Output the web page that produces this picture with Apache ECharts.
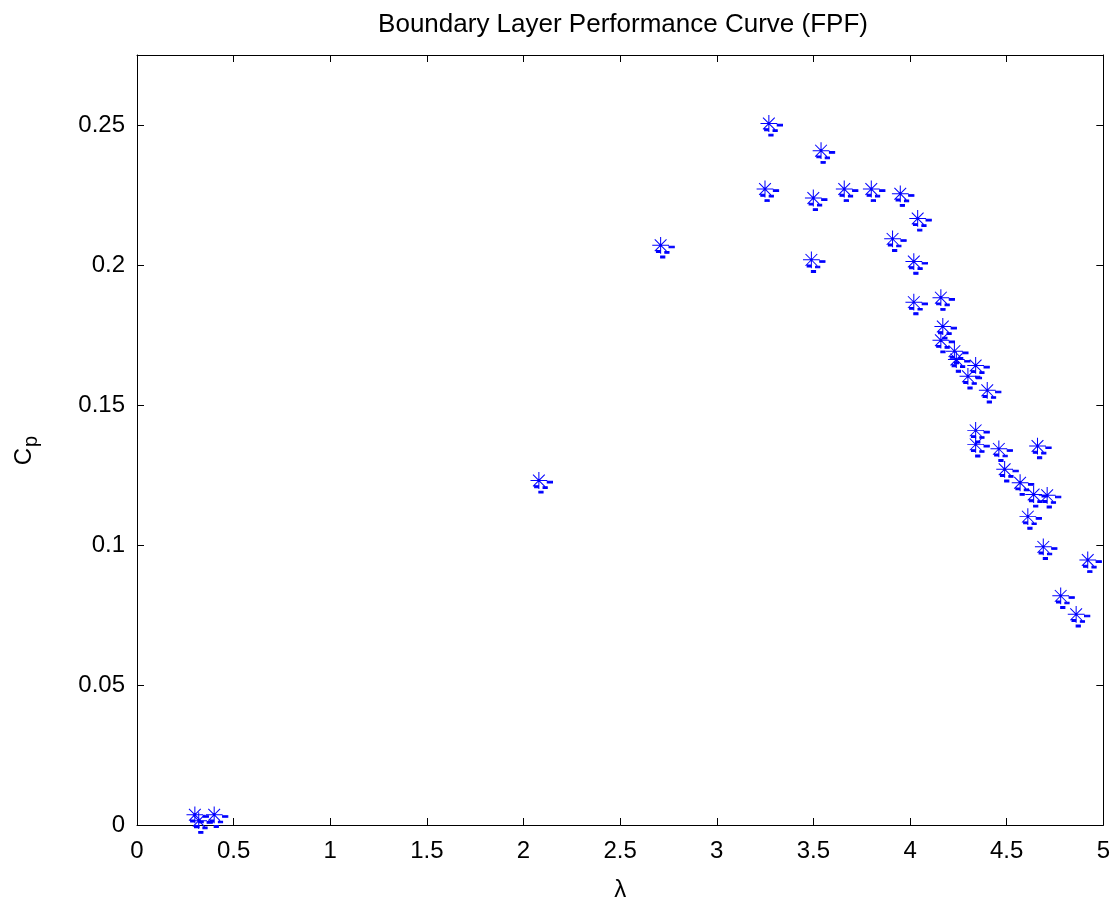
<!DOCTYPE html>
<html>
<head>
<meta charset="utf-8">
<script src="https://cdn.jsdelivr.net/npm/echarts@6/dist/echarts.min.js"></script>
<style>
html,body{margin:0;padding:0;background:#fff;}
#chart{width:1113px;height:907px;}
</style>
</head>
<body>
<div id="chart"></div>
<script>
// Data
var lambda = [3.27,3.54,3.25,3.50,3.66,3.80,3.95,4.04,3.91,4.02,2.71,3.49,4.02,4.16,4.17,4.16,4.23,4.24,4.34,4.30,4.40,4.34,4.34,4.46,4.66,4.49,4.57,4.64,4.71,4.61,4.69,4.92,4.78,4.86,2.08,0.30,0.40,0.32];
var cp = [0.2505,0.2408,0.2271,0.2239,0.2271,0.2271,0.2254,0.2166,0.2093,0.2012,0.2070,0.2018,0.1867,0.1883,0.1780,0.1731,0.1692,0.1662,0.1641,0.1602,0.1552,0.1409,0.1359,0.1343,0.1353,0.1270,0.1222,0.1180,0.1177,0.1101,0.0993,0.0946,0.0818,0.0752,0.1230,0.0036,0.0036,0.0015];
var titleText = 'Boundary Layer Performance Curve (FPF)';
var xName = 'λ';

var points = lambda.map(function(v,i){return [v, cp[i]];});

var FONT = 'Liberation Sans, Arial, sans-serif';
var starPath = 'path://M0,-8L0,8M-8,0L8,0M-5.6,-5.6L5.6,5.6M-5.6,5.6L5.6,-5.6' +
  'M8,0.8L13,0.8L13,2.4L8,2.4Z' +
  'M-4,5L0,5L0,6.8L-4,6.8Z' +
  'M4,6L8,6L8,7.6L4,7.6Z' +
  'M0,10.2L4,10.2L4,12L0,12Z';

var chart = echarts.init(document.getElementById('chart'), null, {renderer:'canvas'});
var axisCommon = {
  type:'value', min:0,
  axisLine:{show:true, onZero:false, lineStyle:{color:'#000', width:1}},
  axisTick:{show:true, inside:true, length:7, lineStyle:{color:'#000'}},
  splitLine:{show:false}
};
var option = {
  backgroundColor:'#fff',
  animation:false,
  title:{text:titleText, left:618, top:7, textAlign:'center',
    textStyle:{fontFamily:FONT, fontSize:26, fontWeight:'normal', color:'#000'}},
  grid:{left:137, right:9, top:55, bottom:81, containLabel:false},
  xAxis:[
    Object.assign({}, axisCommon, {max:5, interval:0.5, position:'bottom',
      name:xName, nameLocation:'middle', nameGap:53,
      nameTextStyle:{fontFamily:FONT, fontSize:24, color:'#000'},
      axisLabel:{fontFamily:FONT, fontSize:24, color:'#000', margin:14}}),
    Object.assign({}, axisCommon, {max:5, interval:0.5, position:'top', axisLabel:{show:false}})
  ],
  yAxis:[
    Object.assign({}, axisCommon, {max:0.275, interval:0.05, position:'left',
      axisLabel:{fontFamily:FONT, fontSize:24, color:'#000', margin:12, showMaxLabel:false}}),
    Object.assign({}, axisCommon, {max:0.275, interval:0.05, position:'right', axisLabel:{show:false}})
  ],
  graphic:[{
    type:'group', x:24, y:448, rotation:Math.PI/2,
    children:[
      {type:'text', x:0, y:0, style:{text:'C', font:'24px '+FONT, fill:'#000', textAlign:'right', textVerticalAlign:'middle'}},
      {type:'text', x:1, y:7, style:{text:'p', font:'20px '+FONT, fill:'#000', textAlign:'left', textVerticalAlign:'middle'}}
    ]
  }],
  series:[{
    type:'scatter', xAxisIndex:0, yAxisIndex:0,
    data:points,
    symbol:starPath,
    symbolSize:[22,21],
    symbolOffset:[2.5,2],
    itemStyle:{color:'#0000ff', borderColor:'#0000ff', borderWidth:1, opacity:1},
    emphasis:{disabled:true},
    clip:false
  }]
};
chart.setOption(option);
</script>
</body>
</html>
